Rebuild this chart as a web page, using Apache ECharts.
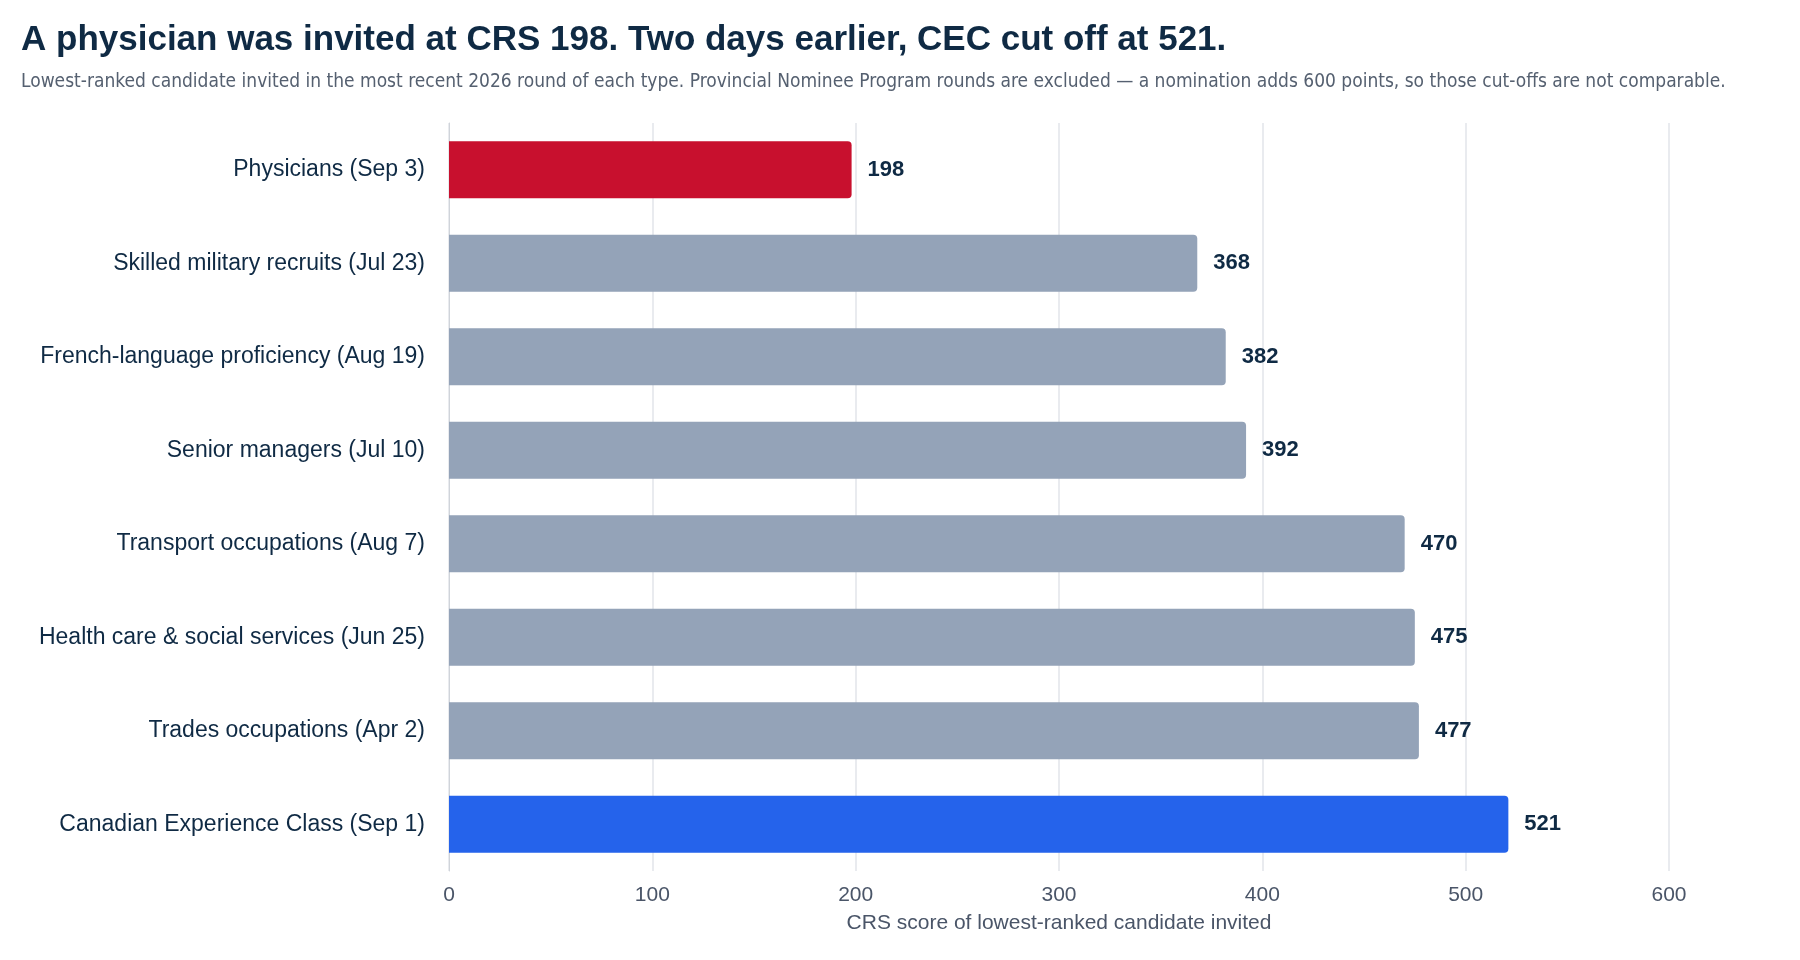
<!DOCTYPE html>
<html>
<head>
<meta charset="utf-8">
<script src="https://cdn.jsdelivr.net/npm/echarts@6/dist/echarts.min.js"></script>
<style>html,body{margin:0;padding:0;background:#fff}#chart{width:1800px;height:960px}</style>
</head>
<body>
<div id="chart"></div>
<script>
// draw types, top to bottom as in the picture
const categories = [
  'Physicians (Sep 3)',
  'Skilled military recruits (Jul 23)',
  'French-language proficiency (Aug 19)',
  'Senior managers (Jul 10)',
  'Transport occupations (Aug 7)',
  'Health care & social services (Jun 25)',
  'Trades occupations (Apr 2)',
  'Canadian Experience Class (Sep 1)'
];
const scores = [198, 368, 382, 392, 470, 475, 477, 521];
const barColors = ['#c8102e', '#94a3b8', '#94a3b8', '#94a3b8', '#94a3b8', '#94a3b8', '#94a3b8', '#2563eb'];

const chart = echarts.init(document.getElementById('chart'));
chart.setOption({
  animation: false,
  title: [{
    text: 'A physician was invited at CRS 198. Two days earlier, CEC cut off at 521.',
    left: 16, top: 18,
    textStyle: {fontFamily: 'Liberation Sans', fontWeight: 'bold', fontSize: 35, color: '#0f2a44'}
  }, {
    text: 'Lowest-ranked candidate invited in the most recent 2026 round of each type. Provincial Nominee Program rounds are excluded — a nomination adds 600 points, so those cut-offs are not comparable.',
    left: 16, top: 68,
    textStyle: {fontFamily: 'DejaVu Sans Condensed', fontWeight: 'normal', fontSize: 19, color: '#556070'}
  }],
  grid: {left: 449, right: 131, top: 123, bottom: 89},
  xAxis: {
    type: 'value', min: 0, max: 600, interval: 100,
    name: 'CRS score of lowest-ranked candidate invited',
    nameLocation: 'middle', nameGap: 42,
    nameTextStyle: {fontFamily: 'Liberation Sans', fontSize: 21, color: '#4a5568'},
    axisLine: {show: false}, axisTick: {show: false},
    axisLabel: {fontFamily: 'Liberation Sans', fontSize: 21, color: '#4a5568', margin: 14},
    splitLine: {lineStyle: {color: '#e2e5ea', width: 1.5}}
  },
  yAxis: {
    type: 'category', data: categories, inverse: true,
    axisLine: {lineStyle: {color: '#d0d4da'}}, axisTick: {show: false},
    axisLabel: {fontFamily: 'Liberation Sans', fontSize: 23, color: '#0f2a44', margin: 24}
  },
  series: [{
    type: 'bar',
    data: scores.map((v, i) => ({value: v, itemStyle: {color: barColors[i]}})),
    barWidth: 57,
    itemStyle: {borderRadius: [0, 4, 4, 0]},
    label: {show: true, position: 'right', distance: 16,
      fontFamily: 'Liberation Sans', fontWeight: 'bold', fontSize: 22, color: '#0f2a44'}
  }]
});
</script>
</body>
</html>
